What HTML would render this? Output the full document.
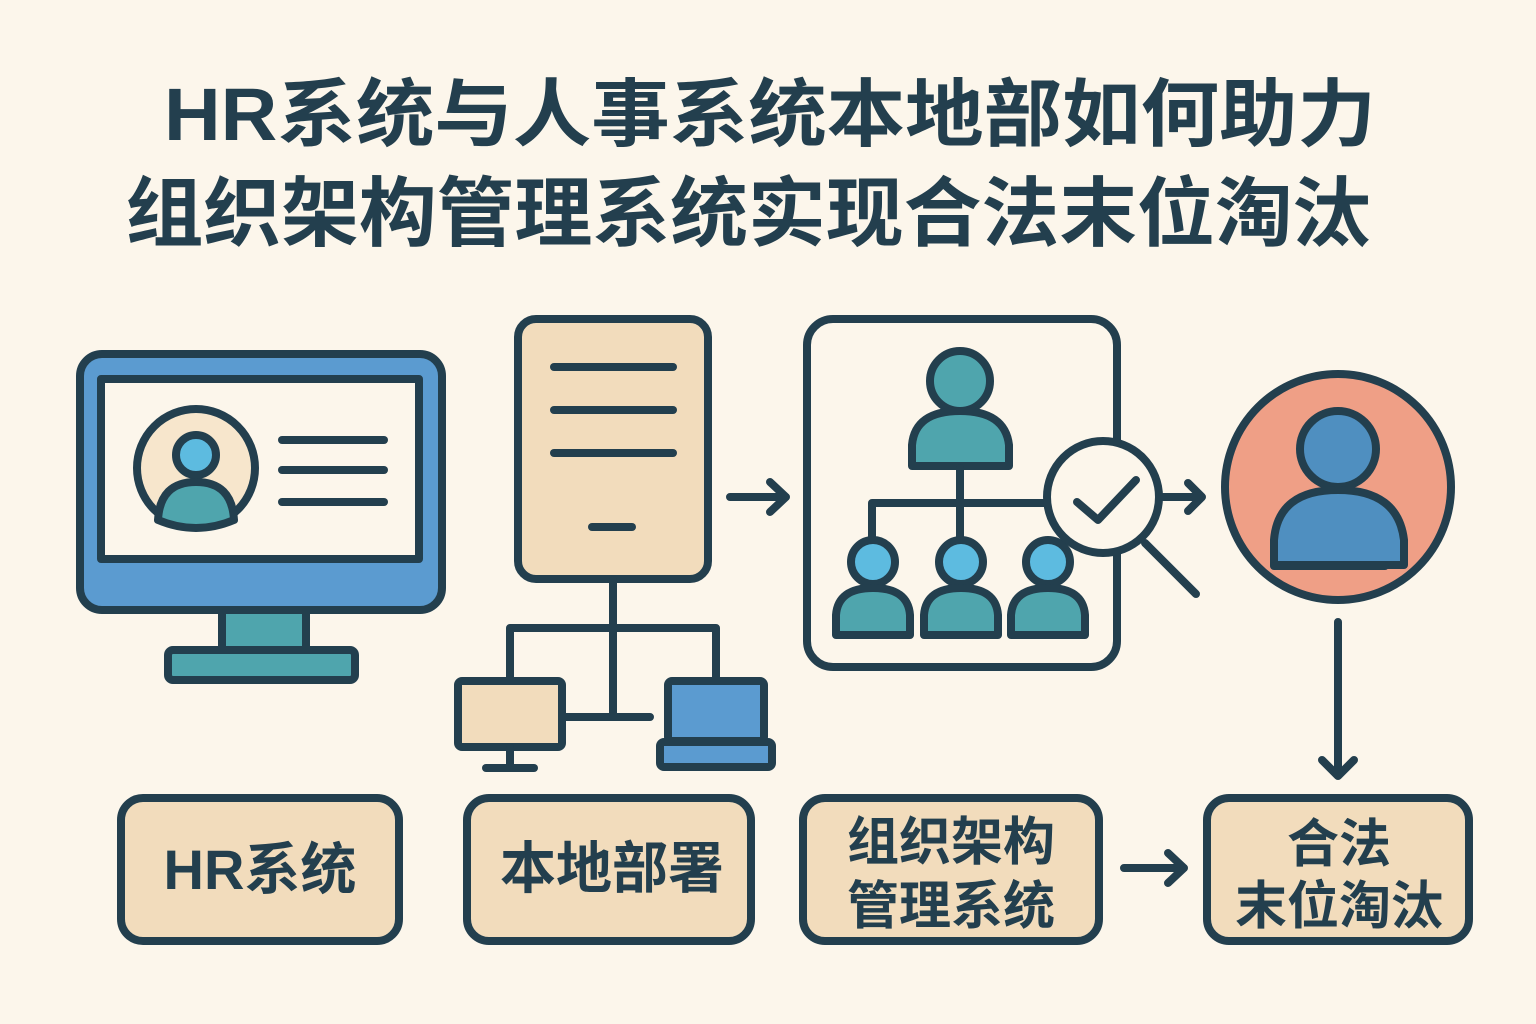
<!DOCTYPE html>
<html><head><meta charset="utf-8"><style>
html,body{margin:0;padding:0;background:#fcf6eb;}
svg{display:block}
text{font-family:"Liberation Sans","Noto Sans CJK SC",sans-serif;font-weight:bold;fill:#233f4e}
</style></head><body>
<svg width="1536" height="1024" viewBox="0 0 1536 1024" xmlns="http://www.w3.org/2000/svg">
<rect width="1536" height="1024" fill="#fcf6eb"/>
<text x="770" y="140" font-size="74" text-anchor="middle" textLength="1212" lengthAdjust="spacingAndGlyphs">HR系统与人事系统本地部如何助力</text>
<text x="748" y="240" font-size="76" text-anchor="middle" textLength="1245" lengthAdjust="spacingAndGlyphs">组织架构管理系统实现合法末位淘汰</text>

<g stroke="#233f4e" stroke-width="8" stroke-linecap="round" stroke-linejoin="round">
<!-- monitor -->
<rect x="222" y="606" width="84" height="46" fill="#4fa5ad"/>
<rect x="168" y="650" width="187" height="30" rx="5" fill="#4fa5ad"/>
<rect x="80" y="354" width="362" height="256" rx="22" fill="#5b9bd0"/>
<rect x="101" y="379" width="318" height="180" fill="#fcf6eb"/>
<circle cx="196" cy="468" r="59" fill="#f7e6cc"/>
<circle cx="196" cy="455" r="20" fill="#5dbbe0"/>
<path d="M158 520 Q160 482 196 482 Q232 482 234 520 Q215 528 196 528 Q177 528 158 520Z" fill="#4fa5ad"/>
<line x1="282" y1="440" x2="384" y2="440"/>
<line x1="282" y1="470" x2="384" y2="470"/>
<line x1="282" y1="502" x2="384" y2="502"/>

<!-- server doc -->
<rect x="518" y="319" width="190" height="260" rx="18" fill="#f2dcbc"/>
<line x1="554" y1="367" x2="673" y2="367"/>
<line x1="554" y1="410" x2="673" y2="410"/>
<line x1="554" y1="453" x2="673" y2="453"/>
<line x1="592" y1="527" x2="632" y2="527"/>
<path d="M613 580 V717 M510 680 V628 H716 V680 M562 717 H650" fill="none"/>
<rect x="458" y="681" width="104" height="66" rx="4" fill="#f2dcbc"/>
<line x1="510" y1="748" x2="510" y2="768"/>
<line x1="486" y1="768" x2="534" y2="768"/>
<rect x="668" y="681" width="96" height="60" rx="4" fill="#5b9bd0"/>
<rect x="660" y="742" width="112" height="25" rx="4" fill="#5b9bd0"/>

<!-- arrow1 -->
<path d="M730 497 H786 M770 482 L786 497 L770 512" fill="none"/>

<!-- org box -->
<rect x="807" y="319" width="310" height="348" rx="26" fill="#fcf6eb"/>
<circle cx="960" cy="381" r="30" fill="#4fa5ad"/>
<path d="M912 466 V445 Q915 411 960 411 Q1005 411 1009 445 V466Z" fill="#4fa5ad"/>
<path d="M960 468 V540 M872 540 V503 H1050" fill="none"/>
<g>
<circle cx="873" cy="562" r="22" fill="#5dbbe0"/>
<path d="M836 635 V615 Q838 588 873 588 Q908 588 910 615 V635Z" fill="#4fa5ad"/>
<circle cx="961" cy="562" r="22" fill="#5dbbe0"/>
<path d="M924 635 V615 Q926 588 961 588 Q996 588 998 615 V635Z" fill="#4fa5ad"/>
<circle cx="1048" cy="562" r="22" fill="#5dbbe0"/>
<path d="M1011 635 V615 Q1013 588 1048 588 Q1083 588 1085 615 V635Z" fill="#4fa5ad"/>
</g>
<line x1="1145" y1="543" x2="1196" y2="594"/>
<circle cx="1103" cy="497" r="56" fill="#fcf6eb"/>
<path d="M1077 502 L1098 520 L1136 480" fill="none"/>
<!-- arrow2 -->
<path d="M1162 497 H1202 M1188 483 L1202 497 L1188 511" fill="none"/>

<!-- person circle -->
<circle cx="1338" cy="487" r="113" fill="#ef9f86"/>
<circle cx="1338" cy="449" r="38" fill="#4f8fc0"/>
<path d="M1274 565 V540 Q1278 490 1338 490 Q1398 490 1404 540 V565Z" fill="#4f8fc0"/>
<line x1="1274" y1="566" x2="1385" y2="566"/>
<!-- down arrow -->
<path d="M1338 622 V776 M1322 760 L1338 776 L1354 760" fill="none"/>

<!-- bottom boxes -->
<rect x="121" y="798" width="278" height="143" rx="22" fill="#f2dcbc"/>
<rect x="467" y="798" width="284" height="143" rx="22" fill="#f2dcbc"/>
<rect x="803" y="798" width="296" height="143" rx="22" fill="#f2dcbc"/>
<rect x="1207" y="798" width="262" height="143" rx="22" fill="#f2dcbc"/>
<path d="M1124 868 H1184 M1168 853 L1184 868 L1168 883" fill="none"/>
</g>

<text x="260" y="889" font-size="56" text-anchor="middle">HR系统</text>
<text x="612" y="888" font-size="56" text-anchor="middle">本地部署</text>
<text x="951" y="860" font-size="52" text-anchor="middle">组织架构</text>
<text x="951" y="924" font-size="52" text-anchor="middle">管理系统</text>
<text x="1339" y="862" font-size="52" text-anchor="middle">合法</text>
<text x="1339" y="924" font-size="52" text-anchor="middle">末位淘汰</text>
</svg>
</body></html>
